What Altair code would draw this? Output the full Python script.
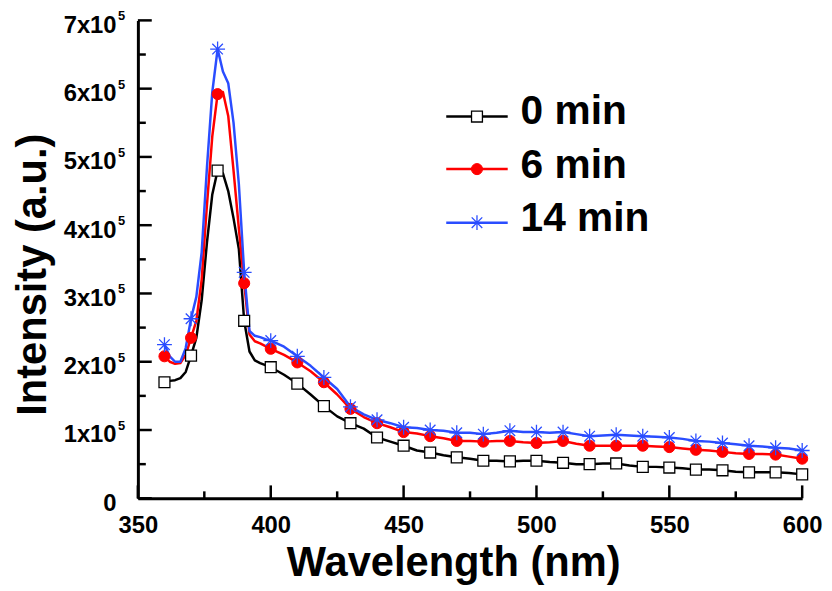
import altair as alt
import pandas as pd

# ---------------- data (intensity in units of 1e5) ----------------
wavelength = [360, 362, 364, 366, 368, 370, 372, 374, 376, 378, 380, 382, 384, 386, 388,
              390, 392, 394, 396, 398, 400, 405, 410, 415, 420, 425, 430, 435, 440, 445,
              450, 455, 460, 465, 470, 475, 480, 485, 490, 495, 500, 505, 510, 515, 520,
              525, 530, 535, 540, 545, 550, 555, 560, 565, 570, 575, 580, 585, 590, 595, 600]

min0 = [1.70, 1.72, 1.73, 1.76, 1.85, 2.09, 2.35, 2.90, 3.75, 4.45, 4.80, 4.76, 4.50, 4.10, 3.65,
        2.60, 2.15, 2.02, 1.98, 1.95, 1.92, 1.81, 1.68, 1.52, 1.35, 1.20, 1.10, 1.02, 0.89, 0.83,
        0.77, 0.70, 0.67, 0.63, 0.60, 0.58, 0.55, 0.55, 0.54, 0.55, 0.55, 0.53, 0.52, 0.50, 0.50,
        0.51, 0.51, 0.48, 0.46, 0.46, 0.45, 0.44, 0.42, 0.42, 0.41, 0.39, 0.38, 0.38, 0.38, 0.37, 0.35]

min6 = [2.08, 2.00, 1.97, 1.98, 2.10, 2.35, 2.60, 3.20, 4.30, 5.30, 5.92, 5.95, 5.60, 4.80, 3.95,
        3.15, 2.40, 2.30, 2.27, 2.23, 2.19, 2.10, 1.99, 1.86, 1.70, 1.52, 1.31, 1.19, 1.10, 1.04,
        0.97, 0.95, 0.91, 0.88, 0.84, 0.84, 0.83, 0.84, 0.84, 0.82, 0.81, 0.82, 0.84, 0.80, 0.77,
        0.77, 0.77, 0.77, 0.77, 0.76, 0.75, 0.73, 0.71, 0.70, 0.68, 0.66, 0.65, 0.65, 0.64, 0.61, 0.58]

min14 = [2.25, 2.08, 2.00, 2.00, 2.20, 2.63, 2.95, 3.60, 4.85, 5.95, 6.58, 6.25, 6.08, 5.50, 4.60,
         3.31, 2.45, 2.38, 2.36, 2.33, 2.31, 2.22, 2.08, 1.94, 1.77, 1.60, 1.34, 1.23, 1.15, 1.10,
         1.04, 1.03, 1.00, 0.99, 0.96, 0.96, 0.94, 0.96, 0.99, 0.97, 0.97, 0.96, 0.97, 0.94, 0.91,
         0.92, 0.93, 0.92, 0.91, 0.90, 0.89, 0.87, 0.84, 0.83, 0.81, 0.79, 0.77, 0.76, 0.74, 0.73, 0.70]

series_names = ["0 min", "6 min", "14 min"]
series_colors = ["#000000", "#ff0000", "#2a4dff"]

x_major = [350, 400, 450, 500, 550, 600]
x_minor = [375, 425, 475, 525, 575]
y_major = [0, 1, 2, 3, 4, 5, 6, 7]
y_minor = [0.5, 1.5, 2.5, 3.5, 4.5, 5.5, 6.5]
y_sup = [1, 2, 3, 4, 5, 6, 7]

# ---------------- tables ----------------
rows = []
for name, vals in zip(series_names, [min0, min6, min14]):
    for w, v in zip(wavelength, vals):
        rows.append({"wl": w, "val": v, "series": name})
df = pd.DataFrame(rows)
df_marks = df[df["wl"] % 10 == 0]

FONT = "Liberation Sans"
W, H = 670, 482

xscale = alt.Scale(domain=[350, 600], nice=False, zero=False)
yscale = alt.Scale(domain=[0, 7], nice=False, zero=True)

xaxis = alt.Axis(
    values=x_major, format="d", domain=True, domainColor="black", domainWidth=3,
    ticks=False, tickSize=0, labelFont=FONT, labelFontSize=24, labelFontWeight="bold",
    labelColor="black", labelPadding=35, labelBaseline="alphabetic", labelFlush=False,
    grid=False, title="Wavelength (nm)", titleFont=FONT, titleFontSize=42,
    titleFontWeight="bold", titleColor="black", titleX=318, titleY=78,
    titleBaseline="alphabetic", titleAlign="center")
yaxis = alt.Axis(
    values=y_major, domain=True, domainColor="black", domainWidth=3,
    ticks=False, tickSize=0, labelFont=FONT, labelFontSize=24, labelFontWeight="bold",
    labelColor="black", labelPadding=22, labelOffset=5,
    labelExpr="datum.value == 0 ? '0' : datum.value + 'x10'",
    grid=False, title="Intensity (a.u.)", titleFont=FONT, titleFontSize=42,
    titleFontWeight="bold", titleColor="black", titleAngle=270, titleX=-106,
    titleY=256, titleBaseline="middle", titleAlign="center")


def X(field):
    return alt.X(field, scale=xscale, axis=xaxis)


def Y(field):
    return alt.Y(field, scale=yscale, axis=yaxis)


lines = alt.Chart(df).mark_line(strokeWidth=2.5, strokeJoin="round").encode(
    x=X("wl:Q"), y=Y("val:Q"),
    color=alt.Color("series:N", scale=alt.Scale(domain=series_names, range=series_colors),
                    legend=None),
    order="wl:Q",
)

pts_black = alt.Chart(df_marks[df_marks["series"] == "0 min"]).mark_point(
    shape="square", filled=True, fill="white", stroke="black", strokeWidth=1.3,
    size=121, opacity=1).encode(x=X("wl:Q"), y=Y("val:Q"))

pts_red = alt.Chart(df_marks[df_marks["series"] == "6 min"]).mark_point(
    shape="circle", filled=True, fill="#ff0000", stroke="#ff0000", strokeWidth=1,
    size=125, opacity=1).encode(x=X("wl:Q"), y=Y("val:Q"))

STAR = "M-1,0L1,0M0,-1L0,1M-0.71,-0.71L0.71,0.71M-0.71,0.71L0.71,-0.71"
pts_blue = alt.Chart(df_marks[df_marks["series"] == "14 min"]).mark_point(
    shape=STAR, filled=False, stroke="#2a4dff", strokeWidth=1.3,
    size=225, opacity=1).encode(x=X("wl:Q"), y=Y("val:Q"))

# inward ticks
yt_major = alt.Chart(pd.DataFrame({"val": y_major})).mark_rule(strokeWidth=2.5, color="black").encode(
    y=Y("val:Q"), x=alt.value(0), x2=alt.value(14))
yt_minor = alt.Chart(pd.DataFrame({"val": y_minor})).mark_rule(strokeWidth=2.5, color="black").encode(
    y=Y("val:Q"), x=alt.value(0), x2=alt.value(8))
xt_major = alt.Chart(pd.DataFrame({"wl": x_major})).mark_rule(strokeWidth=2.5, color="black").encode(
    x=X("wl:Q"), y=alt.value(H), y2=alt.value(H - 13))
xt_minor = alt.Chart(pd.DataFrame({"wl": x_minor})).mark_rule(strokeWidth=2.5, color="black").encode(
    x=X("wl:Q"), y=alt.value(H), y2=alt.value(H - 7))

# superscript "5" of the y labels
sup = alt.Chart(pd.DataFrame({"val": y_sup})).mark_text(
    text="5", font=FONT, fontSize=13, fontWeight="bold", align="left", baseline="middle",
    dy=-4, color="black").encode(y=Y("val:Q"), x=alt.value(-20))

# custom legend
legend_layers = []
leg_line_y = [97, 150, 204]
leg_text_y = [105, 159, 212]
leg_marks = [
    dict(shape="square", filled=True, fill="white", stroke="black", strokeWidth=1.3, size=121),
    dict(shape="circle", filled=True, fill="#ff0000", stroke="#ff0000", strokeWidth=1, size=125),
    dict(shape=STAR, filled=False, stroke="#2a4dff", strokeWidth=1.3, size=225),
]
for name, col, ly, ty, mk in zip(series_names, series_colors, leg_line_y, leg_text_y, leg_marks):
    one = pd.DataFrame({"label": [name]})
    legend_layers.append(alt.Chart(one).mark_rule(color=col, strokeWidth=2.5).encode(
        x=alt.value(311), x2=alt.value(373), y=alt.value(ly)))
    legend_layers.append(alt.Chart(one).mark_point(opacity=1, **mk).encode(
        x=alt.value(342), y=alt.value(ly)))
    legend_layers.append(alt.Chart(one).mark_text(
        font=FONT, fontSize=41, fontWeight="bold", align="left", baseline="alphabetic",
        color="black").encode(text="label:N", x=alt.value(386), y=alt.value(ty)))

chart = alt.layer(
    lines, pts_black, pts_red, pts_blue,
    yt_major, yt_minor, xt_major, xt_minor, sup, *legend_layers
).properties(
    width=W, height=H, background="white",
    padding={"left": 131, "top": 10, "right": 22, "bottom": 89},
    autosize=alt.AutoSizeParams(type="none"),
).configure_view(stroke=None)

chart.save("out.html", embed_options={"renderer": "svg", "actions": False})
